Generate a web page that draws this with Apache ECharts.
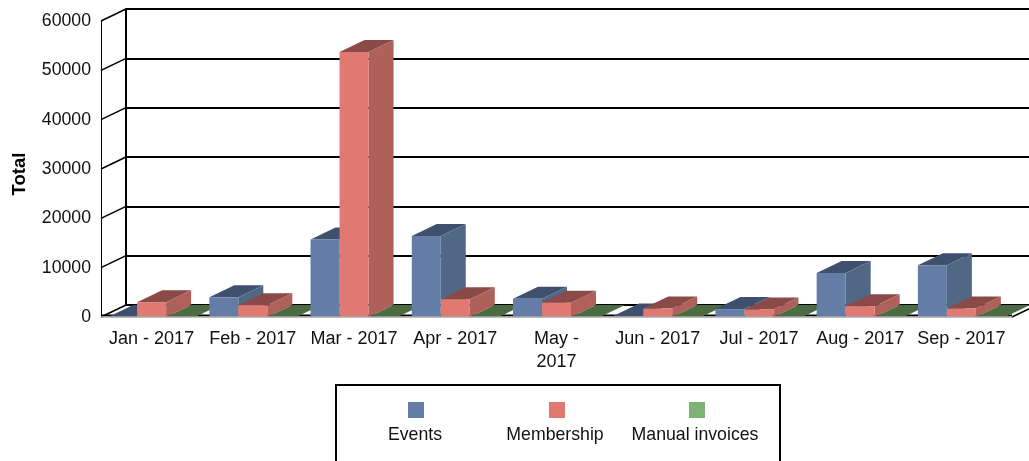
<!DOCTYPE html>
<html>
<head>
<meta charset="utf-8">
<style>
html,body{margin:0;padding:0;background:#fff;overflow:hidden}
#main{width:1029px;height:461px}
</style>
<script src="https://cdn.jsdelivr.net/npm/echarts@6/dist/echarts.min.js"></script>
</head>
<body>
<div id="main"></div>
<script>
var months = ['Jan - 2017','Feb - 2017','Mar - 2017','Apr - 2017','May -\n2017','Jun - 2017','Jul - 2017','Aug - 2017','Sep - 2017'];
var events = [0,4000,15700,16400,3700,300,1600,8900,10500];
var membership = [3000,2400,53700,3600,2900,1700,1500,2200,1700];
var manualInvoices = [0,0,0,0,0,0,0,0,0];
var yTicks = [0,10000,20000,30000,40000,50000,60000];
var seriesNames = ['Events','Membership','Manual invoices'];

// depth of the fake 3d, in pixels
var DX = 25, DY = -12;
var BAR_RATIO = 0.2866;
var FONT = '"Liberation Sans", Arial, sans-serif';

var colors = [
    {front:'#647da6', top:'#3e506d', side:'#506885'},
    {front:'#e07972', top:'#8a4a47', side:'#b0605b'},
    {front:'#7eb175', top:'#4b6b43', side:'#5f8a57'}
];

function bar3d(idx){
    return function(params, api){
        var cat = api.value(0);
        var base = api.coord([cat, 0]);
        var top = api.coord([cat, api.value(1)]);
        var w = api.size([1, 0])[0] * BAR_RATIO;
        var x0 = base[0] + (idx - 1.5) * w;
        var x1 = x0 + w;
        var c = colors[idx];
        // later bars must paint over earlier ones, also across series
        var order = 10 + cat * 3 + idx;
        return {
            type: 'group',
            children: [
                {type:'polygon', z2:order, shape:{points:[[x0,top[1]],[x1,top[1]],[x1+DX,top[1]+DY],[x0+DX,top[1]+DY]]}, style:{fill:c.top}},
                {type:'polygon', z2:order, shape:{points:[[x1,top[1]],[x1+DX,top[1]+DY],[x1+DX,base[1]+DY],[x1,base[1]]]}, style:{fill:c.side}},
                {type:'rect', z2:order, shape:{x:x0, y:top[1], width:w, height:base[1]-top[1]}, style:{fill:c.front}}
            ]
        };
    };
}

function toData(arr){
    return arr.map(function(v, i){ return [i, v]; });
}

function barSeries(idx, arr){
    return {
        name: seriesNames[idx],
        type: 'custom',
        xAxisIndex: 0,
        yAxisIndex: 0,
        z: 5,
        clip: false,
        renderItem: bar3d(idx),
        encode: {x:0, y:1},
        data: toData(arr)
    };
}

var myChart = echarts.init(document.getElementById('main'));
myChart.setOption({
    animation: false,
    backgroundColor: '#fff',
    textStyle: {fontFamily: FONT},
    grid: [
        {left:101, right:17, top:21, bottom:144, outerBoundsMode:'none'},
        {left:126, right:0, top:9, bottom:156, outerBoundsMode:'none'}
    ],
    xAxis: [
        {
            type: 'category',
            gridIndex: 0,
            data: months,
            z: 6,
            axisTick: {show:false},
            axisLine: {lineStyle:{color:'#a8a8a8', width:1.5}},
            axisLabel: {color:'#111', fontSize:18, margin:11, lineHeight:23, interval:0, fontFamily:FONT}
        },
        {
            type: 'category',
            gridIndex: 1,
            data: months,
            axisTick: {show:false},
            axisLine: {show:false},
            axisLabel: {show:false}
        }
    ],
    yAxis: [
        {
            type: 'value',
            gridIndex: 0,
            min: 0,
            max: 60000,
            interval: 10000,
            name: 'Total',
            nameLocation: 'middle',
            nameGap: 72,
            nameTextStyle: {color:'#000', fontSize:18.5, fontWeight:'bold', fontFamily:FONT, padding:[0,10,0,0]},
            axisTick: {show:false},
            axisLine: {show:true, lineStyle:{color:'#000', width:1}},
            axisLabel: {color:'#111', fontSize:17.7, margin:10, fontFamily:FONT, formatter:function(v){ return String(v); }},
            splitLine: {show:false}
        },
        {
            type: 'value',
            gridIndex: 1,
            min: 0,
            max: 60000,
            interval: 10000,
            axisTick: {show:false},
            axisLine: {show:true, lineStyle:{color:'#000', width:2}},
            axisLabel: {show:false},
            splitLine: {show:true, lineStyle:{color:'#000', width:2}}
        }
    ],
    series: [
        {
            // slanted lines joining the front axis to the back wall
            type: 'custom',
            xAxisIndex: 0,
            yAxisIndex: 0,
            z: 3,
            clip: false,
            silent: true,
            renderItem: function(params, api){
                var p = api.coord([0, api.value(0)]);
                var left = params.coordSys.x;
                var right = left + params.coordSys.width;
                var kids = [{type:'line', shape:{x1:left, y1:p[1], x2:left+DX, y2:p[1]+DY}, style:{stroke:'#000', lineWidth:1.5}}];
                if(api.value(0) === 0){
                    kids.push({type:'line', shape:{x1:right, y1:p[1], x2:right+DX, y2:p[1]+DY}, style:{stroke:'#000', lineWidth:1.5}});
                    // black floor edge, shows in the gaps between the bars
                    kids.push({type:'line', shape:{x1:left, y1:p[1]-1.5, x2:right, y2:p[1]-1.5}, style:{stroke:'#000', lineWidth:2}});
                }
                return {type:'group', children:kids};
            },
            encode: {y:0},
            data: yTicks.map(function(v){ return [v]; })
        },
        barSeries(0, events),
        barSeries(1, membership),
        barSeries(2, manualInvoices)
    ],
    graphic: [
        {type:'rect', left:335, top:384, shape:{width:444, height:90}, style:{fill:'#fff', stroke:'#000', lineWidth:2}},
        {type:'rect', left:408, top:402, shape:{width:16, height:16}, style:{fill:colors[0].front}},
        {type:'rect', left:549, top:402, shape:{width:16, height:16}, style:{fill:colors[1].front}},
        {type:'rect', left:689, top:402, shape:{width:16, height:16}, style:{fill:colors[2].front}},
        {type:'text', x:415, y:435, style:{text:seriesNames[0], fill:'#111', font:'17.7px '+FONT, align:'center', verticalAlign:'middle'}},
        {type:'text', x:555, y:435, style:{text:seriesNames[1], fill:'#111', font:'17.7px '+FONT, align:'center', verticalAlign:'middle'}},
        {type:'text', x:695, y:435, style:{text:seriesNames[2], fill:'#111', font:'17.7px '+FONT, align:'center', verticalAlign:'middle'}}
    ]
});
</script>
</body>
</html>
